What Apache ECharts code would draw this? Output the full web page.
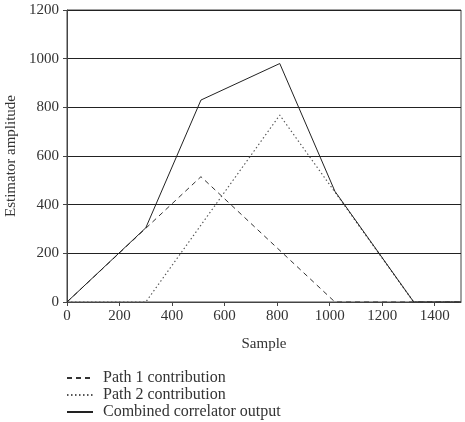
<!DOCTYPE html>
<html><head><meta charset="utf-8">
<script src="https://cdn.jsdelivr.net/npm/echarts@6/dist/echarts.min.js"></script>
<style>html,body{margin:0;padding:0;background:#fff}#c{width:465px;height:422px}</style>
</head><body><div id="c"></div>
<script>
const path1 = [[0,0],[510,515],[1020,0],[1500,0]];
const path2 = [[0,0],[300,0],[810,768],[1320,0],[1500,0]];
const combined = [[0,0],[300,305],[510,830],[810,980],[1020,455],[1320,0],[1500,0]];
const names = ['Path 1 contribution','Path 2 contribution','Combined correlator output'];
const font = 'Liberation Serif';
const chart = echarts.init(document.getElementById('c'));
chart.setOption({
  animation:false,
  backgroundColor:'#fff',
  textStyle:{fontFamily:font},
  grid:{left:67,right:4,top:10,bottom:120,show:true,borderColor:'#444',borderWidth:1,backgroundColor:'transparent',outerBoundsMode:'none',containLabel:false},
  legend:{orient:'vertical',left:66,top:370,height:60,itemWidth:26,itemHeight:10,itemGap:1,padding:0,
    itemStyle:{opacity:0},
    textStyle:{fontFamily:font,fontSize:16,lineHeight:16,color:'#333',padding:[0,0,0,5]},data:names},
  xAxis:{type:'value',min:0,max:1500,interval:200,name:'Sample',nameLocation:'middle',nameGap:35,
    nameTextStyle:{fontFamily:font,fontSize:15,color:'#333'},
    axisLine:{show:true,lineStyle:{color:'#444'}},axisTick:{show:true,length:4,inside:false,lineStyle:{color:'#444'}},
    axisLabel:{fontFamily:font,fontSize:15,color:'#333',margin:7,showMaxLabel:false,formatter:v=>String(v)},splitLine:{show:false}},
  yAxis:{type:'value',min:0,max:1200,interval:200,name:'Estimator amplitude',nameLocation:'middle',nameGap:47,
    nameTextStyle:{fontFamily:font,fontSize:15,color:'#333'},
    axisLine:{show:true,lineStyle:{color:'#444'}},axisTick:{show:true,length:4,lineStyle:{color:'#444'}},
    axisLabel:{fontFamily:font,fontSize:15,color:'#333',margin:8,formatter:v=>String(v)},
    splitLine:{show:true,lineStyle:{color:'#222',width:1}}},
  series:[
    {name:names[0],type:'line',data:path1,symbol:'none',lineStyle:{color:'#333',width:1,type:[5,4]},itemStyle:{color:'#333'}},
    {name:names[1],type:'line',data:path2,symbol:'none',lineStyle:{color:'#555',width:1.2,type:[1.5,2.5]},itemStyle:{color:'#555'}},
    {name:names[2],type:'line',data:combined,symbol:'none',lineStyle:{color:'#222',width:1},itemStyle:{color:'#222'}}
  ]
});
</script></body></html>
